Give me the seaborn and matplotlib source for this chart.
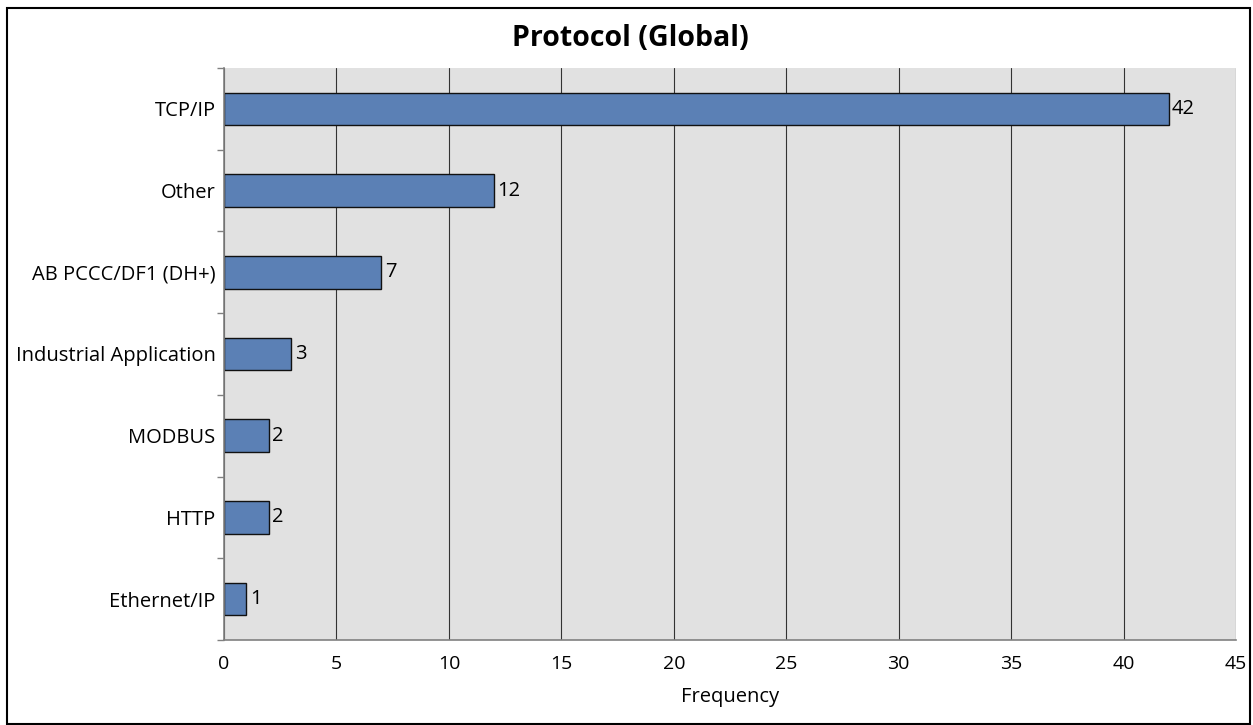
import matplotlib
matplotlib.use("Agg")
import matplotlib.pyplot as plt
import seaborn as sns
import pandas as pd
from matplotlib.patches import Rectangle

categories = ["TCP/IP", "Other", "AB PCCC/DF1 (DH+)", "Industrial Application",
              "MODBUS", "HTTP", "Ethernet/IP"]
values = [42, 12, 7, 3, 2, 2, 1]
x_ticks = [0, 5, 10, 15, 20, 25, 30, 35, 40, 45]

sns.set_theme(style="white")
plt.rcParams['font.family'] = ['Open Sans', 'DejaVu Sans']
plt.rcParams['text.color'] = 'black'
plt.rcParams['xtick.color'] = 'black'
plt.rcParams['ytick.color'] = 'black'
plt.rcParams['axes.labelcolor'] = 'black'

df = pd.DataFrame({"Protocol": categories, "Frequency": values})

fig = plt.figure(figsize=(12.53, 7.25), dpi=100)
W, H = 1253, 725
ax = fig.add_axes([224 / W, 1 - 640 / H, (1236 - 224) / W, (640 - 68) / H])
ax.set_facecolor("#e1e1e1")

sns.barplot(data=df, x="Frequency", y="Protocol", orient="h", color="#5b80b5",
            saturation=1, width=0.4, edgecolor="#111111", linewidth=1.0, ax=ax)

ax.set_xlim(0, 45)
ax.set_ylim(len(categories) - 0.5, -0.5)
ax.set_xticks(x_ticks)
ax.set_xticklabels([str(t) for t in x_ticks], fontsize=14)
ax.tick_params(axis="x", direction="out", length=5, color="#808080", pad=6)
ax.set_yticks(range(len(categories)))
ax.set_yticklabels(categories, fontsize=14.5)
ax.tick_params(axis="y", which="major", length=0, pad=6)
ax.set_yticks([i - 0.5 for i in range(len(categories) + 1)], minor=True)
ax.tick_params(axis="y", which="minor", direction="out", length=5, color="#808080", left=True)

ax.xaxis.grid(True, color="#333333", linewidth=0.8)
ax.set_axisbelow(True)
for s in ["top", "right"]:
    ax.spines[s].set_visible(False)
for s in ["left", "bottom"]:
    ax.spines[s].set_color("#808080")
    ax.spines[s].set_linewidth(1.2)

for i, v in enumerate(values):
    ax.text(v + 0.15, i, str(v), va="center", ha="left", fontsize=14.5, color="black")

ax.set_xlabel("Frequency", fontsize=14.5, labelpad=10)
ax.set_ylabel("")
fig.text(630 / W, 1 - 38 / H, "Protocol (Global)", ha="center", va="center",
         fontsize=20.5, fontweight="bold")

fig.add_artist(Rectangle((7 / W, 1 / H), (1250 - 7) / W, (724 - 8) / H,
                         transform=fig.transFigure, fill=False,
                         edgecolor="black", linewidth=1.5))

fig.savefig("out.png", dpi=100)
